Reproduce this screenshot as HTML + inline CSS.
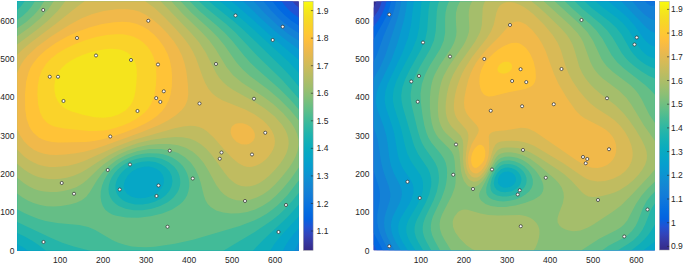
<!DOCTYPE html>
<html><head><meta charset="utf-8">
<style>
html,body{margin:0;padding:0;background:#fff;width:685px;height:264px;overflow:hidden}
svg{display:block}
text{font-family:"Liberation Sans",sans-serif;font-size:8.5px;fill:#262626}
</style></head><body>
<svg width="685" height="264" viewBox="0 0 685 264" xmlns="http://www.w3.org/2000/svg">
<defs>
<clipPath id="cl"><rect x="17.2" y="1.2" width="281.7" height="249.55"/></clipPath>
<clipPath id="cr"><rect x="373.5" y="1.2" width="281.3" height="249.2"/></clipPath>
<linearGradient id="gl" x1="0" y1="1" x2="0" y2="0"><stop offset="0.000" stop-color="#352a87"/><stop offset="0.031" stop-color="#36369f"/><stop offset="0.062" stop-color="#3243b9"/><stop offset="0.094" stop-color="#2152d3"/><stop offset="0.125" stop-color="#0462e0"/><stop offset="0.156" stop-color="#046ce0"/><stop offset="0.188" stop-color="#0c74dd"/><stop offset="0.219" stop-color="#127cd8"/><stop offset="0.250" stop-color="#1484d4"/><stop offset="0.281" stop-color="#118dd2"/><stop offset="0.312" stop-color="#0a97d1"/><stop offset="0.344" stop-color="#069fce"/><stop offset="0.375" stop-color="#06a6c7"/><stop offset="0.406" stop-color="#09abbf"/><stop offset="0.438" stop-color="#13b0b6"/><stop offset="0.469" stop-color="#21b4ac"/><stop offset="0.500" stop-color="#33b8a1"/><stop offset="0.531" stop-color="#47bb95"/><stop offset="0.562" stop-color="#5ebe89"/><stop offset="0.594" stop-color="#75bf7e"/><stop offset="0.625" stop-color="#8bbf75"/><stop offset="0.656" stop-color="#9fbe6d"/><stop offset="0.688" stop-color="#b1bd66"/><stop offset="0.719" stop-color="#c2bc5f"/><stop offset="0.750" stop-color="#d3bb58"/><stop offset="0.781" stop-color="#e3b951"/><stop offset="0.812" stop-color="#f2b949"/><stop offset="0.844" stop-color="#febf3c"/><stop offset="0.875" stop-color="#fec932"/><stop offset="0.906" stop-color="#f9d329"/><stop offset="0.938" stop-color="#f5de21"/><stop offset="0.969" stop-color="#f5eb18"/><stop offset="1.000" stop-color="#f9fb0e"/></linearGradient>
<linearGradient id="gr" x1="0" y1="1" x2="0" y2="0"><stop offset="0.000" stop-color="#352a87"/><stop offset="0.031" stop-color="#36369f"/><stop offset="0.062" stop-color="#3243b9"/><stop offset="0.094" stop-color="#2152d3"/><stop offset="0.125" stop-color="#0462e0"/><stop offset="0.156" stop-color="#046ce0"/><stop offset="0.188" stop-color="#0c74dd"/><stop offset="0.219" stop-color="#127cd8"/><stop offset="0.250" stop-color="#1484d4"/><stop offset="0.281" stop-color="#118dd2"/><stop offset="0.312" stop-color="#0a97d1"/><stop offset="0.344" stop-color="#069fce"/><stop offset="0.375" stop-color="#06a6c7"/><stop offset="0.406" stop-color="#09abbf"/><stop offset="0.438" stop-color="#13b0b6"/><stop offset="0.469" stop-color="#21b4ac"/><stop offset="0.500" stop-color="#33b8a1"/><stop offset="0.531" stop-color="#47bb95"/><stop offset="0.562" stop-color="#5ebe89"/><stop offset="0.594" stop-color="#75bf7e"/><stop offset="0.625" stop-color="#8bbf75"/><stop offset="0.656" stop-color="#9fbe6d"/><stop offset="0.688" stop-color="#b1bd66"/><stop offset="0.719" stop-color="#c2bc5f"/><stop offset="0.750" stop-color="#d3bb58"/><stop offset="0.781" stop-color="#e3b951"/><stop offset="0.812" stop-color="#f2b949"/><stop offset="0.844" stop-color="#febf3c"/><stop offset="0.875" stop-color="#fec932"/><stop offset="0.906" stop-color="#f9d329"/><stop offset="0.938" stop-color="#f5de21"/><stop offset="0.969" stop-color="#f5eb18"/><stop offset="1.000" stop-color="#f9fb0e"/></linearGradient>
</defs>
<rect width="685" height="264" fill="#fff"/>
<g clip-path="url(#cl)">
<rect x="17.2" y="1.2" width="281.7" height="249.55" fill="#352a87"/>
<path fill="#353dad" fill-rule="evenodd" d="M17.7 1.2 298.7 1.2 298.7 250.7 17.2 250.7 17.2 1.2Z"/>
<path fill="#2053d4" fill-rule="evenodd" d="M17.7 1.2 292.4 1.2 295.4 4.7 298.7 7.5 298.7 250.7 17.2 250.7 17.2 1.2Z"/>
<path fill="#0268e1" fill-rule="evenodd" d="M17.7 1.2 281.7 1.2 285.1 5.7 289.2 10.2 293.9 14.2 298.7 17.5 298.7 250.7 17.2 250.7 17.2 1.2Z"/>
<path fill="#0d75dc" fill-rule="evenodd" d="M17.7 1.2 272.5 1.2 277.9 8.2 284.7 15.2 291.7 21.0 298.7 25.5 298.7 250.7 17.2 250.7 17.2 1.2Z"/>
<path fill="#1481d6" fill-rule="evenodd" d="M17.7 1.2 263.4 1.2 271.3 10.7 280.2 19.5 289.7 27.2 298.7 33.0 298.7 250.7 17.2 250.7 17.2 1.2Z"/>
<path fill="#108ed2" fill-rule="evenodd" d="M17.7 1.2 253.6 1.2 264.8 13.2 276.7 24.5 287.7 33.4 298.7 40.8 298.7 250.7 17.2 250.7 17.2 1.2Z"/>
<path fill="#079ccf" fill-rule="evenodd" d="M17.7 1.2 243.0 1.2 262.4 19.7 274.2 30.4 285.7 39.8 298.7 49.3 298.7 242.6 294.4 250.7 17.2 250.7 17.2 1.2Z"/>
<path fill="#06a7c6" fill-rule="evenodd" d="M17.7 1.2 231.6 1.2 248.7 16.0 271.7 36.8 298.7 59.7 298.7 228.2 293.0 234.7 288.9 240.2 285.4 245.7 282.9 250.7 17.2 250.7 17.2 1.2Z"/>
<path fill="#0faeb9" fill-rule="evenodd" d="M17.7 1.2 220.0 1.2 245.5 22.2 288.6 61.7 298.7 72.7 298.7 216.4 279.6 237.2 274.2 244.2 270.2 250.7 28.1 250.7 22.7 246.9 17.2 243.9 17.2 1.2ZM143.9 166.7 137.8 168.2 132.3 171.2 127.7 175.7 124.8 180.7 123.7 185.7 124.6 190.2 127.2 193.9 131.7 196.7 136.2 198.0 140.7 198.3 145.7 197.8 150.2 196.6 154.3 194.7 158.2 191.9 161.1 188.7 163.1 185.2 163.9 181.7 163.8 178.2 162.5 174.7 160.2 171.6 157.0 169.2 153.2 167.5 148.7 166.6Z"/>
<path fill="#25b5a9" fill-rule="evenodd" d="M17.7 1.2 209.0 1.2 216.0 7.2 233.7 21.2 244.4 30.7 282.2 67.4 289.7 75.6 298.7 86.6 298.7 204.8 287.2 217.4 263.4 239.7 252.9 250.7 46.1 250.7 38.9 245.2 32.2 240.7 24.7 236.4 17.2 232.9 17.2 1.2ZM142.1 161.7 137.7 162.7 133.3 164.2 129.3 166.2 125.6 168.7 122.3 171.7 119.8 174.7 117.6 178.2 116.2 181.7 115.5 185.2 115.5 188.7 116.1 191.7 117.5 194.7 119.4 197.2 122.2 199.7 125.6 201.7 129.2 203.1 135.2 204.4 142.2 204.5 148.7 203.6 155.2 201.6 161.0 198.7 165.7 195.2 169.5 190.7 171.6 186.2 172.5 181.2 171.7 175.9 169.4 171.2 165.7 167.2 161.0 164.2 155.2 162.1 148.7 161.3Z"/>
<path fill="#42bb98" fill-rule="evenodd" d="M24.7 1.2 199.0 1.2 206.5 8.2 225.8 23.7 235.2 32.2 257.2 55.8 281.7 79.4 298.7 98.5 298.7 192.9 292.0 201.2 285.7 208.2 279.2 214.4 271.7 220.6 256.2 231.1 223.3 250.7 90.2 250.7 73.7 246.6 62.2 242.8 50.7 237.8 17.2 221.9 17.2 10.0 21.2 6.0ZM145.9 157.2 140.7 157.9 135.3 159.2 130.2 161.1 125.7 163.4 121.6 166.2 117.5 169.7 114.4 173.2 111.8 177.2 110.0 181.2 108.8 185.7 108.5 189.7 109.0 193.7 110.3 197.2 112.5 200.7 115.2 203.5 118.7 205.9 125.7 208.8 133.7 210.2 142.7 210.2 151.7 208.8 160.2 206.1 167.7 202.2 173.3 197.7 177.5 192.2 178.9 189.2 179.9 185.7 180.3 182.7 180.1 179.2 179.4 175.7 178.3 172.7 176.6 169.7 174.2 166.7 168.8 162.2 162.2 159.1 154.2 157.3Z"/>
<path fill="#65be86" fill-rule="evenodd" d="M34.7 1.4 189.8 1.2 199.2 10.7 217.6 26.2 224.7 32.7 231.7 40.2 244.2 55.8 250.4 62.7 256.7 68.7 279.7 88.9 289.7 99.1 298.7 109.2 298.7 180.6 287.4 195.2 277.7 205.2 272.2 209.8 266.7 213.7 260.7 217.3 254.7 220.2 239.7 225.9 193.0 239.7 174.7 243.7 154.5 246.7 146.2 247.3 138.7 247.1 131.7 246.4 124.7 244.8 118.3 242.7 112.6 240.2 95.2 230.1 88.2 227.0 79.2 224.9 57.2 223.1 45.7 221.0 38.7 218.9 31.7 216.3 24.7 213.2 17.2 209.2 17.2 20.0 22.9 15.7 27.7 11.2 31.7 6.3ZM147.9 153.2 141.7 154.0 135.7 155.3 129.7 157.4 124.2 160.0 118.9 163.2 114.5 166.7 110.5 170.7 107.0 175.2 104.1 180.2 102.0 185.7 100.8 191.2 100.6 196.7 101.3 201.7 102.9 206.2 105.3 209.7 108.7 212.6 112.2 214.5 116.2 215.8 126.2 217.5 138.2 217.7 150.7 216.3 162.2 213.5 172.2 209.4 179.7 204.6 182.7 201.8 185.1 198.7 187.1 195.2 188.4 191.2 189.2 186.7 189.2 182.2 188.5 177.7 187.0 173.2 185.0 169.2 182.6 165.7 179.7 162.7 176.2 159.9 172.2 157.5 168.0 155.7 163.2 154.3 158.2 153.4Z"/>
<path fill="#87bf77" fill-rule="evenodd" d="M44.2 1.2 180.7 1.2 191.2 12.5 210.4 29.7 217.8 37.2 224.4 45.2 236.3 62.2 242.7 69.5 250.2 76.2 268.7 90.1 279.2 99.0 290.2 109.9 298.7 120.3 298.7 167.6 297.7 169.1 290.7 178.9 282.7 188.7 276.2 195.6 269.7 201.2 262.7 205.8 255.2 209.4 247.2 211.9 239.2 213.3 231.2 213.6 223.2 212.6 216.2 210.4 210.7 207.1 207.7 204.0 205.5 200.2 203.9 195.7 200.7 182.7 198.4 175.7 195.1 168.7 190.9 162.7 185.0 157.2 178.2 153.1 170.2 150.4 161.2 149.0 149.7 149.1 137.7 151.1 126.7 154.8 116.7 160.1 109.2 165.7 102.4 172.7 97.3 179.7 89.7 192.3 86.2 196.7 81.7 200.3 76.2 202.8 69.7 204.6 61.2 205.9 53.7 206.4 46.7 206.2 40.2 205.1 34.2 203.3 28.2 200.7 22.2 197.2 17.2 193.6 17.2 28.3 26.2 21.9 33.7 15.2 39.4 8.7Z"/>
<path fill="#a5be6b" fill-rule="evenodd" d="M53.7 1.2 171.4 1.2 182.6 13.7 201.7 32.2 209.1 40.2 215.3 48.7 226.6 67.2 233.1 75.2 242.1 82.7 262.7 96.2 273.2 104.0 283.2 113.2 291.2 122.7 294.6 128.2 297.0 133.7 298.4 139.2 298.6 144.7 297.8 150.2 295.9 155.7 293.2 161.2 289.0 167.7 282.2 176.5 275.3 184.2 269.2 189.9 263.2 194.2 256.7 197.6 250.2 199.7 243.2 200.7 236.7 200.2 232.2 199.0 228.2 197.2 224.2 194.5 220.8 191.2 216.1 184.7 207.9 169.7 203.5 162.7 198.5 156.7 192.8 151.7 185.7 147.7 178.2 145.3 169.2 144.0 158.7 144.0 148.2 145.1 137.7 147.3 127.7 150.5 118.7 154.5 111.2 158.9 103.8 164.2 98.0 169.2 87.2 179.7 82.2 183.8 76.2 187.2 69.7 189.6 63.2 191.1 56.7 191.9 50.2 192.1 44.2 191.6 38.7 190.4 33.7 188.7 28.7 186.2 23.7 183.0 17.2 177.8 17.2 36.2 30.4 26.7 40.4 18.2 48.1 9.7Z"/>
<path fill="#c0bc60" fill-rule="evenodd" d="M65.2 1.3 160.7 1.2 191.3 33.2 199.0 42.2 205.6 52.2 216.2 73.2 219.6 78.2 223.2 82.2 227.7 86.2 233.2 90.0 255.2 102.3 265.2 108.8 274.7 116.6 282.0 124.7 285.2 129.7 287.2 134.2 288.4 138.7 288.7 143.7 288.0 148.2 286.4 153.2 283.8 158.2 280.1 163.7 275.2 169.6 269.7 175.3 264.7 179.5 259.9 182.7 255.2 184.9 250.2 186.3 245.7 186.6 241.2 185.9 237.7 184.7 234.9 183.2 229.2 178.5 224.7 173.0 211.6 154.7 206.2 148.8 201.2 144.5 195.2 140.8 189.2 138.5 182.7 137.3 175.2 137.0 164.2 137.9 150.7 140.1 138.2 143.1 126.7 146.9 117.6 150.7 108.7 155.2 100.5 160.2 86.7 169.3 80.7 172.8 73.7 175.8 66.7 177.8 60.2 178.8 54.2 179.2 48.7 179.1 43.2 178.3 38.2 177.0 33.2 175.0 28.2 172.3 23.7 169.2 17.2 163.7 17.2 44.6 38.2 28.7 48.4 20.2 57.5 11.2Z"/>
<path fill="#d9ba56" fill-rule="evenodd" d="M84.2 1.6 84.9 1.2 145.2 1.2 154.7 8.1 163.7 16.4 175.1 28.2 183.5 37.7 189.1 45.2 192.7 51.2 195.8 57.7 202.6 76.7 205.2 83.0 208.4 88.7 212.1 93.2 216.7 97.1 222.2 100.3 245.2 109.6 254.3 114.2 262.8 120.2 266.4 123.7 269.4 127.2 271.8 130.7 273.7 134.7 274.6 138.2 274.9 141.7 274.5 145.2 273.2 149.2 271.3 152.7 268.7 156.2 265.7 159.4 262.3 162.2 259.2 164.2 255.7 165.8 252.2 166.8 249.2 167.0 246.2 166.7 243.2 165.8 238.2 163.0 232.2 157.9 225.7 151.2 213.7 137.4 207.2 131.4 203.2 128.8 199.2 127.1 194.7 126.0 190.2 125.7 183.2 126.4 174.7 128.2 134.2 139.8 115.7 146.8 84.2 161.1 76.2 163.8 68.2 165.7 61.7 166.6 55.2 167.1 49.2 166.9 43.7 166.1 38.7 164.7 33.7 162.6 28.7 159.8 24.2 156.4 17.2 149.4 17.2 54.8 22.9 49.2 30.6 42.7 56.5 23.2 77.7 6.2Z"/>
<path fill="#f1b94a" fill-rule="evenodd" d="M116.2 9.2 124.7 8.9 132.2 9.7 139.2 11.6 145.7 14.7 152.7 19.4 160.0 25.7 167.7 33.7 174.2 41.8 178.6 48.7 182.0 55.7 184.5 63.2 186.4 71.7 187.9 84.2 188.3 93.7 187.4 100.2 185.1 105.7 181.6 110.2 175.9 115.2 168.3 120.2 159.7 124.7 142.6 131.7 104.2 145.8 92.7 149.6 84.2 151.7 75.7 153.3 65.2 154.5 56.2 155.0 49.7 154.7 44.2 153.8 39.2 152.3 34.2 149.9 28.7 146.0 24.0 141.2 20.2 135.5 17.2 128.9 17.2 73.0 20.9 64.7 23.9 60.2 27.5 55.7 37.1 46.7 50.7 36.7 69.2 25.0 81.2 18.6 91.7 14.3 103.7 11.1ZM238.2 123.2 242.5 123.2 246.7 124.5 250.7 127.0 253.4 130.2 254.8 133.7 254.9 137.2 253.3 140.7 250.7 143.1 248.7 144.1 246.2 144.6 241.2 144.2 236.4 141.7 232.7 137.7 231.4 135.2 230.7 132.7 230.7 130.2 231.1 128.2 232.2 126.3 233.7 124.9 235.7 123.8Z"/>
<path fill="#ffc337" fill-rule="evenodd" d="M114.2 22.2 122.7 21.7 129.7 22.2 136.2 23.7 142.2 26.2 148.2 29.8 154.2 34.8 159.6 40.7 164.1 47.2 167.5 53.7 169.9 60.7 171.4 68.2 172.1 76.7 171.8 86.2 170.6 94.2 168.6 100.7 165.4 106.7 161.9 111.2 157.2 115.7 151.7 119.7 144.8 123.7 136.3 127.7 125.0 132.2 113.2 136.3 102.7 139.2 94.2 140.9 85.7 141.9 58.7 142.4 52.2 141.9 47.2 141.0 42.7 139.5 38.5 137.2 33.2 132.5 31.1 129.7 29.2 126.2 26.6 118.7 25.2 109.2 25.0 94.2 26.2 81.4 28.7 71.9 30.5 67.7 32.9 63.7 38.4 56.7 46.2 49.7 55.7 43.1 67.2 36.6 78.7 31.3 90.2 27.2 102.2 24.1Z"/>
<path fill="#fad32a" fill-rule="evenodd" d="M116.2 34.2 122.7 34.3 128.5 35.2 133.7 36.8 138.7 39.2 143.2 42.4 147.1 46.2 150.4 50.7 153.0 55.7 155.0 61.7 156.0 68.2 156.4 76.2 155.9 85.2 154.8 92.7 153.3 98.7 150.9 104.2 148.0 108.7 144.9 112.2 140.7 115.8 135.7 119.2 130.2 122.2 123.3 125.2 116.7 127.5 109.7 129.4 103.2 130.5 96.2 131.1 88.7 131.1 64.2 128.6 54.2 126.4 50.2 124.7 47.1 122.7 42.9 118.2 40.0 112.2 38.2 104.6 37.4 94.7 37.8 85.2 39.3 77.2 42.0 70.2 46.2 63.7 51.4 58.2 57.8 53.2 65.7 48.4 74.7 44.2 85.2 40.2 96.2 37.1 106.7 35.1Z"/>
<path fill="#f5e41d" fill-rule="evenodd" d="M104.7 49.2 110.2 48.8 115.2 48.9 119.7 49.6 123.5 50.7 127.2 52.5 130.1 54.7 132.7 57.7 134.5 60.7 135.9 64.7 136.7 69.7 136.8 75.2 136.3 83.2 135.4 91.2 134.3 96.7 132.7 101.2 130.4 105.2 125.7 110.2 119.2 114.2 111.7 116.7 103.7 117.8 94.7 117.2 82.7 114.7 71.2 111.2 67.2 109.4 63.7 107.4 60.2 104.3 57.6 100.7 55.6 96.2 54.5 90.7 54.4 85.2 55.1 80.2 56.8 75.2 59.5 70.7 62.4 67.2 66.3 63.7 71.2 60.4 76.7 57.4 83.2 54.7 90.5 52.2 97.7 50.4Z"/>
</g>
<g clip-path="url(#cr)">
<rect x="373.5" y="1.2" width="281.3" height="249.2" fill="#352a87"/>
<path fill="#353dad" fill-rule="evenodd" d="M376.5 1.2 655.0 1.2 655.0 250.2 373.5 250.2 373.5 8.1Z"/>
<path fill="#2053d4" fill-rule="evenodd" d="M382.0 1.2 655.0 1.2 655.0 250.2 373.5 250.2 373.5 17.6 378.4 10.2 380.4 5.7 381.7 1.2Z"/>
<path fill="#0268e1" fill-rule="evenodd" d="M386.5 1.2 655.0 1.2 655.0 250.2 376.7 250.2 373.5 244.4 373.5 26.8 378.5 19.9 382.1 13.7 384.7 7.7Z"/>
<path fill="#0d75dc" fill-rule="evenodd" d="M391.5 1.2 655.0 1.2 655.0 250.2 382.8 250.2 373.5 232.5 373.5 39.8 386.2 16.7 389.0 9.8 391.1 1.2Z"/>
<path fill="#1481d6" fill-rule="evenodd" d="M396.0 1.2 645.1 1.2 647.4 3.7 650.0 5.4 652.5 6.0 655.0 5.3 655.0 250.2 388.6 250.2 383.1 240.2 380.1 233.7 378.2 227.7 377.2 221.7 377.3 214.7 379.6 201.2 380.0 195.2 379.6 190.7 378.6 186.2 373.5 170.3 373.5 62.1 377.0 54.4 383.7 35.7 392.3 15.7 394.6 8.2Z"/>
<path fill="#108ed2" fill-rule="evenodd" d="M401.5 1.2 632.5 1.2 638.0 8.2 645.0 15.1 650.5 18.8 653.0 19.7 655.0 19.9 655.0 250.2 394.5 250.2 387.4 237.2 385.3 231.7 384.3 226.7 384.1 222.2 384.5 217.7 385.6 213.2 389.7 200.7 390.3 196.7 390.3 193.2 388.9 186.7 384.2 173.7 382.3 167.2 380.7 159.7 377.7 139.7 376.0 133.7 373.5 127.2 373.5 78.7 380.5 66.4 385.3 55.2 397.8 17.2 399.9 9.2 401.2 1.2Z"/>
<path fill="#079ccf" fill-rule="evenodd" d="M407.0 1.2 621.4 1.2 646.5 27.7 651.0 31.3 655.0 32.8 655.0 250.2 400.8 250.2 396.0 242.4 393.2 236.7 391.4 231.2 390.9 225.7 391.4 221.2 392.7 216.7 399.2 203.7 401.0 199.2 401.9 194.7 401.7 190.7 400.2 185.7 393.8 173.2 390.9 165.2 389.3 157.7 387.5 142.4 386.2 135.2 383.9 127.2 377.4 109.2 376.2 103.7 376.0 98.7 376.7 92.7 378.6 86.7 391.2 60.2 397.6 42.7 404.0 19.7 405.9 10.2Z"/>
<path fill="#06a7c6" fill-rule="evenodd" d="M414.0 1.2 608.2 1.2 622.5 12.9 628.7 18.7 634.7 25.7 643.0 37.5 646.4 41.7 650.5 45.1 655.0 46.8 655.0 250.2 407.7 250.2 402.6 242.2 399.9 236.7 398.4 231.2 398.2 226.2 399.0 222.2 400.6 218.2 409.1 204.2 411.7 198.7 413.4 192.7 413.4 187.2 412.5 183.7 411.1 180.7 402.7 168.2 399.4 160.7 397.6 153.7 394.3 133.7 392.2 126.2 386.1 108.2 384.9 102.7 384.7 97.7 385.4 91.2 387.7 83.7 402.2 53.2 407.9 38.2 411.0 24.7 413.7 1.2Z"/>
<path fill="#0faeb9" fill-rule="evenodd" d="M421.5 1.2 595.4 1.2 601.8 6.7 616.9 17.7 623.0 23.2 628.7 30.2 637.3 44.7 641.8 50.7 644.9 53.7 648.0 55.9 651.5 57.6 655.0 58.5 655.0 241.6 643.4 250.2 415.3 250.2 410.2 242.2 407.7 237.2 406.3 232.2 406.2 227.2 407.0 223.7 408.6 219.7 417.5 204.5 420.9 197.2 422.9 189.7 423.0 182.7 422.1 178.7 420.3 174.7 410.9 161.2 407.1 153.2 405.4 147.2 401.0 128.2 394.0 106.7 393.0 101.2 392.8 96.2 393.8 88.7 396.5 80.7 400.5 72.2 412.5 49.2 416.9 38.2 419.2 27.2ZM504.9 171.7 502.0 173.0 499.5 175.5 498.1 178.7 497.9 182.2 498.9 184.7 501.0 186.6 504.0 187.7 507.5 187.6 511.0 186.5 514.1 184.2 515.8 181.2 516.0 178.2 514.7 175.2 512.0 172.8 508.5 171.6Z"/>
<path fill="#25b5a9" fill-rule="evenodd" d="M430.0 1.2 584.5 1.2 592.0 8.2 609.5 21.4 616.3 27.7 621.7 34.7 630.9 50.7 634.0 54.7 637.5 58.4 641.5 61.8 646.0 64.8 650.5 67.0 655.0 68.4 655.0 224.5 651.2 230.7 648.0 235.2 644.0 239.7 639.8 243.7 631.4 250.2 423.1 250.2 418.3 242.2 415.9 237.2 414.6 232.2 414.5 227.7 415.3 223.7 416.8 219.7 425.9 202.2 429.2 194.2 431.1 186.2 431.3 182.2 431.1 178.2 429.9 173.2 428.0 168.7 418.0 154.0 413.9 145.2 402.6 106.2 401.5 100.5 401.2 95.2 402.4 87.2 405.4 78.7 410.0 69.2 421.2 49.2 425.3 39.2 427.2 30.2 428.6 9.7ZM504.9 167.7 501.0 169.2 497.4 172.7 494.8 177.7 493.8 183.2 494.5 186.7 496.7 189.7 500.5 191.7 505.0 192.3 511.0 191.4 514.0 190.1 516.5 188.5 518.5 186.7 520.0 184.7 521.0 182.2 521.4 179.7 521.1 177.2 520.1 174.7 518.5 172.4 516.5 170.6 514.0 169.1 511.0 168.0 508.0 167.5Z"/>
<path fill="#42bb98" fill-rule="evenodd" d="M439.0 1.2 574.7 1.2 582.3 8.7 600.5 23.7 607.1 30.2 612.4 37.2 621.9 53.2 625.4 57.7 629.2 61.7 635.0 66.7 642.0 71.8 649.0 76.0 655.0 78.6 655.0 203.3 652.6 206.7 650.7 210.2 645.2 224.2 642.5 229.7 638.5 235.2 633.4 240.2 628.0 244.1 617.9 250.2 431.2 250.2 426.4 241.7 424.0 236.4 422.8 231.7 422.7 226.7 423.4 222.7 425.1 217.7 433.6 200.2 436.8 191.7 438.7 182.2 438.9 177.7 438.6 173.2 437.5 168.1 435.4 163.2 432.9 159.2 424.5 147.5 422.0 142.9 419.9 137.7 417.4 129.2 412.0 106.7 410.9 100.2 410.6 94.2 411.8 85.7 414.9 76.7 419.6 67.2 430.2 49.2 434.0 40.2 435.7 31.2 436.8 11.2 437.6 6.2ZM504.4 164.2 502.0 164.9 499.5 166.4 495.6 170.7 491.9 178.2 490.3 185.2 490.8 189.7 491.8 191.7 493.1 193.2 497.0 195.5 502.5 196.6 506.5 196.5 511.0 195.8 515.0 194.5 519.0 192.4 522.0 190.1 524.5 187.2 526.0 184.2 526.6 181.2 526.4 177.7 525.1 174.2 523.0 171.0 520.0 168.2 516.5 166.0 512.5 164.6 508.5 163.9Z"/>
<path fill="#65be86" fill-rule="evenodd" d="M449.0 1.2 564.8 1.2 573.7 9.7 590.3 24.2 596.6 30.7 602.4 38.7 611.5 55.1 617.1 62.2 624.0 68.4 644.8 84.7 650.2 89.7 655.0 94.8 655.0 191.5 650.5 195.9 646.5 201.3 642.9 208.2 638.1 220.7 635.7 225.7 632.0 231.0 627.5 235.2 622.0 238.7 608.5 245.8 602.2 250.2 440.0 250.2 434.7 240.7 432.2 235.2 430.9 230.2 430.8 225.2 431.6 220.7 433.0 216.2 441.7 197.7 444.9 188.7 446.2 183.2 446.9 177.7 447.1 172.2 446.8 167.7 445.7 162.7 443.7 158.2 441.0 154.2 431.5 142.7 428.5 137.7 426.4 132.7 424.3 125.2 422.4 114.7 420.8 102.2 420.5 93.7 421.8 84.2 425.0 74.7 429.5 65.9 440.3 48.7 443.7 40.7 445.1 32.7 445.1 18.7 445.5 12.7 446.8 6.7ZM504.0 160.7 501.5 161.5 499.0 163.0 497.0 164.9 494.6 168.2 489.3 178.7 487.2 184.2 486.2 188.2 486.3 192.7 487.0 194.8 488.4 196.7 490.1 198.2 492.5 199.5 498.0 201.1 503.5 201.4 509.5 200.8 515.5 199.4 521.0 197.2 525.5 194.6 529.3 191.2 531.7 187.7 532.8 184.2 532.8 179.7 531.4 175.2 528.6 170.7 524.5 166.4 520.0 163.4 514.5 161.3 509.0 160.3Z"/>
<path fill="#87bf77" fill-rule="evenodd" d="M460.0 1.2 554.6 1.2 579.9 24.2 587.5 32.2 593.0 40.7 601.4 58.7 604.0 62.7 606.8 66.2 613.0 72.0 630.5 85.2 634.6 89.2 638.3 93.7 641.9 99.7 649.3 114.7 655.0 123.0 655.0 181.5 647.9 188.2 641.4 195.7 635.8 204.2 627.4 220.2 624.0 224.5 620.2 227.7 616.0 230.2 599.2 238.7 581.5 250.2 451.0 250.2 444.5 239.8 441.8 234.7 440.0 229.2 439.6 224.2 440.2 219.7 442.0 214.4 451.7 195.7 454.7 187.7 455.5 183.2 455.7 177.7 454.7 161.2 453.5 155.6 451.5 151.4 448.9 148.2 438.8 138.2 436.0 134.2 433.6 129.2 431.8 123.2 430.6 116.2 429.9 107.2 429.9 97.7 430.4 91.2 431.3 85.2 432.7 79.7 434.6 74.7 439.4 65.7 451.2 48.2 453.6 43.7 455.1 39.7 456.1 35.7 456.5 31.7 455.8 18.2 456.0 12.7 457.4 6.7ZM505.0 156.7 501.0 157.9 498.0 159.9 495.5 162.8 492.5 167.8 479.7 192.2 479.1 194.7 479.2 196.7 479.9 198.7 481.3 200.7 485.5 203.9 491.0 206.0 498.0 207.0 506.0 206.9 515.5 205.5 525.5 202.8 534.0 199.5 539.5 195.9 541.6 193.7 542.9 191.2 543.5 188.2 543.3 185.2 542.3 181.7 540.4 177.7 537.9 173.7 534.8 169.7 528.4 163.7 524.7 161.2 521.0 159.3 517.0 157.8 513.0 156.9 509.0 156.5Z"/>
<path fill="#a5be6b" fill-rule="evenodd" d="M472.0 1.2 543.7 1.2 569.6 24.7 577.6 33.2 580.8 37.7 583.2 42.2 590.3 61.7 592.5 66.2 595.0 70.2 598.3 74.2 602.4 78.2 619.5 91.0 626.3 97.7 631.4 104.7 644.0 125.4 655.0 140.9 655.0 169.3 649.5 175.7 631.5 195.0 621.0 205.4 613.0 211.5 593.7 224.2 588.0 227.5 580.5 230.4 576.5 231.1 573.0 231.2 569.0 230.6 565.5 229.5 562.0 227.7 559.6 225.7 557.6 222.2 557.5 218.2 558.6 214.2 562.8 203.2 563.9 197.2 563.4 192.2 561.5 187.2 558.8 183.2 555.1 179.2 538.9 165.2 530.5 159.0 522.5 154.9 516.5 153.2 510.5 152.3 505.0 152.5 501.0 153.5 498.5 155.0 496.0 157.6 485.5 177.0 482.0 181.8 478.5 185.0 474.5 187.0 472.5 187.3 470.5 187.1 468.5 186.2 467.0 185.1 464.0 180.9 462.2 176.2 460.9 170.7 459.3 152.2 458.1 146.7 455.6 142.2 445.5 132.8 443.1 129.7 441.2 126.2 439.5 121.7 438.4 116.7 437.9 110.7 437.9 103.7 438.6 95.7 439.8 88.2 441.4 81.7 443.7 75.7 448.9 66.2 463.1 45.7 465.8 40.7 467.8 35.7 468.9 31.7 469.3 27.7 468.7 15.2 468.9 10.7 470.0 5.7ZM462.5 209.7 465.0 209.4 467.5 209.7 480.5 213.5 488.5 215.0 498.0 215.5 520.0 215.1 525.5 215.9 530.1 217.7 533.2 219.7 536.2 222.7 538.2 225.7 539.3 229.2 539.5 233.2 538.9 237.7 537.5 242.7 535.7 247.2 533.8 250.2 474.6 250.2 472.0 249.1 466.5 245.3 460.0 238.7 455.2 232.2 453.0 226.7 452.7 221.7 453.3 219.2 454.5 216.4 458.0 212.1 460.0 210.7Z"/>
<path fill="#c0bc60" fill-rule="evenodd" d="M485.0 1.2 531.5 1.2 538.9 7.2 548.1 15.7 560.5 27.7 566.7 34.7 569.8 39.2 572.4 44.2 574.4 49.7 579.3 66.7 582.0 72.7 585.4 78.2 590.0 83.9 595.5 89.5 601.0 94.2 615.5 105.3 624.0 113.7 629.5 120.7 635.7 129.7 641.4 139.2 644.8 146.2 646.5 151.2 647.0 155.7 646.6 160.2 645.1 164.7 642.3 169.7 638.5 174.7 633.5 180.1 628.0 184.8 619.5 190.2 614.5 192.4 609.0 194.2 602.0 196.0 596.5 197.0 592.0 197.1 588.5 196.5 585.5 195.1 582.5 192.8 571.5 180.7 564.3 174.2 558.0 169.7 537.5 156.4 530.5 152.4 524.5 149.8 518.0 148.1 511.0 147.4 506.0 147.4 502.0 148.0 499.1 149.2 497.0 150.8 494.0 155.3 489.3 166.2 486.1 172.2 483.0 176.7 479.5 180.0 476.5 181.5 473.5 181.7 470.5 180.5 468.0 178.2 465.3 173.2 463.6 166.2 463.0 158.7 463.3 144.7 462.6 139.7 460.5 135.6 451.7 126.7 449.5 123.7 447.9 120.7 446.6 116.7 445.8 112.2 445.6 107.2 445.9 101.7 446.9 94.2 448.6 86.7 450.7 80.2 453.3 74.2 459.5 63.7 475.3 41.2 480.0 32.2 481.2 28.2 481.9 24.2 482.7 8.2 483.5 4.7Z"/>
<path fill="#d9ba56" fill-rule="evenodd" d="M506.5 2.2 510.5 2.1 514.5 2.8 519.0 4.4 523.5 6.8 528.5 10.2 533.5 14.2 544.1 24.7 552.5 34.7 557.6 42.7 560.9 50.2 565.5 65.7 568.4 73.2 572.6 81.2 578.7 90.2 584.9 97.7 590.5 103.4 596.5 108.2 609.0 116.3 614.5 120.3 620.2 125.7 625.0 132.0 628.8 138.7 631.3 145.2 632.6 151.2 632.6 156.7 631.4 161.7 628.9 166.7 625.1 171.2 620.5 174.9 613.0 178.7 605.0 181.0 597.5 181.6 590.5 180.3 587.0 178.9 583.0 176.8 563.0 162.9 534.0 145.8 528.5 143.4 523.5 142.0 518.0 141.1 511.5 140.8 505.5 141.0 501.0 141.6 498.0 142.6 495.5 144.5 493.2 148.7 489.7 160.2 487.0 166.7 483.5 172.3 480.0 175.9 477.0 177.4 474.0 177.6 471.5 176.4 469.0 173.7 467.5 170.8 466.5 167.7 465.6 160.2 466.1 152.2 468.3 139.2 468.3 134.7 467.6 132.2 466.5 130.0 458.0 120.2 456.2 117.2 455.0 114.2 454.1 110.2 453.8 105.2 454.3 99.7 455.3 93.7 457.1 86.7 459.5 79.7 462.0 73.7 465.2 67.7 472.3 56.7 486.8 38.2 491.1 31.2 493.7 24.7 496.4 12.7 498.1 8.2 499.5 6.1 501.6 4.2 504.0 2.9Z"/>
<path fill="#f1b94a" fill-rule="evenodd" d="M515.0 21.7 517.5 21.4 520.0 21.8 523.0 22.9 526.0 24.6 532.4 30.2 538.4 37.7 542.1 43.7 545.5 50.7 553.9 73.7 558.4 83.7 566.7 97.7 575.9 110.7 580.3 115.2 585.0 118.6 600.0 126.2 605.5 129.5 609.8 133.2 613.0 137.2 614.8 140.7 616.0 144.7 616.3 148.7 616.0 152.2 615.0 155.7 613.1 159.2 610.6 162.2 607.5 164.7 602.5 167.1 597.5 168.1 592.0 167.8 586.5 166.1 577.5 161.1 535.0 131.8 528.0 128.6 524.5 127.9 521.0 127.8 506.0 130.2 495.5 131.3 492.5 132.1 490.5 133.2 489.3 134.7 488.8 136.7 489.2 147.7 488.7 154.7 487.5 159.8 485.5 164.7 481.5 170.4 479.5 172.1 477.5 173.2 475.5 173.6 473.5 173.1 472.0 172.1 470.5 170.3 469.0 166.9 468.2 162.7 468.1 157.7 468.8 152.7 471.5 144.4 478.0 133.2 478.8 130.2 478.2 127.7 476.7 125.2 469.4 117.2 467.0 114.0 465.5 111.1 464.5 107.7 464.0 102.7 464.5 97.2 466.1 88.7 468.4 79.7 470.7 73.2 473.5 67.2 476.7 61.7 481.0 55.9 486.5 49.6 499.6 36.2 509.0 25.5 512.0 23.0Z"/>
<path fill="#ffc337" fill-rule="evenodd" d="M511.5 43.1 516.5 42.8 519.0 43.3 521.5 44.4 526.0 48.0 530.0 53.5 533.5 61.2 535.5 69.7 535.9 77.2 535.4 80.2 534.5 82.7 533.0 84.9 531.0 86.6 525.5 88.9 508.5 92.3 492.5 96.2 488.5 96.5 485.5 95.6 483.5 94.1 481.5 91.2 480.2 87.7 479.5 83.7 479.4 79.2 479.8 75.2 481.0 70.7 482.7 66.7 485.0 62.8 487.7 59.2 494.5 52.4 499.0 49.1 503.5 46.3 507.5 44.4ZM478.5 145.1 480.0 144.7 481.5 145.0 483.0 145.9 484.0 147.2 485.3 151.2 485.2 156.2 484.0 160.2 482.0 163.3 478.0 166.9 476.5 167.7 475.0 167.9 473.0 166.7 471.7 164.2 471.1 160.7 471.3 156.7 472.4 152.7 474.0 149.4 476.0 146.9Z"/>
<path fill="#fad32a" fill-rule="evenodd" d="M505.0 61.7 508.3 61.7 510.9 63.2 512.2 65.7 511.8 68.7 509.9 71.2 507.0 72.9 503.5 73.7 500.0 73.1 498.6 72.2 497.7 70.7 497.5 69.2 498.0 67.2 499.2 65.2 500.7 63.7 503.0 62.3Z"/>
</g>
<g fill="#fff" stroke="#3a3a3a" stroke-width="0.8">
<circle cx="43.20" cy="10.00" r="1.55"/>
<circle cx="148.30" cy="20.80" r="1.55"/>
<circle cx="235.50" cy="15.50" r="1.55"/>
<circle cx="282.70" cy="26.70" r="1.55"/>
<circle cx="272.70" cy="40.00" r="1.55"/>
<circle cx="77.00" cy="38.00" r="1.55"/>
<circle cx="96.00" cy="55.50" r="1.55"/>
<circle cx="131.00" cy="60.00" r="1.55"/>
<circle cx="158.00" cy="64.50" r="1.55"/>
<circle cx="216.00" cy="64.00" r="1.55"/>
<circle cx="49.75" cy="76.75" r="1.55"/>
<circle cx="58.00" cy="76.75" r="1.55"/>
<circle cx="63.50" cy="101.00" r="1.55"/>
<circle cx="137.50" cy="111.00" r="1.55"/>
<circle cx="156.20" cy="98.10" r="1.55"/>
<circle cx="163.80" cy="91.30" r="1.55"/>
<circle cx="160.30" cy="101.90" r="1.55"/>
<circle cx="199.50" cy="103.50" r="1.55"/>
<circle cx="254.00" cy="98.75" r="1.55"/>
<circle cx="265.25" cy="132.75" r="1.55"/>
<circle cx="252.00" cy="154.50" r="1.55"/>
<circle cx="61.75" cy="183.00" r="1.55"/>
<circle cx="74.00" cy="193.75" r="1.55"/>
<circle cx="110.25" cy="136.50" r="1.55"/>
<circle cx="130.00" cy="164.50" r="1.55"/>
<circle cx="107.75" cy="170.00" r="1.55"/>
<circle cx="119.75" cy="189.50" r="1.55"/>
<circle cx="158.50" cy="185.50" r="1.55"/>
<circle cx="156.50" cy="196.00" r="1.55"/>
<circle cx="169.75" cy="150.75" r="1.55"/>
<circle cx="221.50" cy="152.50" r="1.55"/>
<circle cx="219.75" cy="158.75" r="1.55"/>
<circle cx="192.75" cy="178.50" r="1.55"/>
<circle cx="43.50" cy="242.00" r="1.55"/>
<circle cx="167.50" cy="226.75" r="1.55"/>
<circle cx="245.00" cy="201.00" r="1.55"/>
<circle cx="286.00" cy="205.00" r="1.55"/>
<circle cx="278.50" cy="232.00" r="1.55"/>
<circle cx="389.25" cy="14.50" r="1.55"/>
<circle cx="423.00" cy="42.50" r="1.55"/>
<circle cx="510.00" cy="25.00" r="1.55"/>
<circle cx="450.00" cy="56.50" r="1.55"/>
<circle cx="484.25" cy="59.00" r="1.55"/>
<circle cx="581.50" cy="20.00" r="1.55"/>
<circle cx="636.75" cy="37.50" r="1.55"/>
<circle cx="634.50" cy="44.50" r="1.55"/>
<circle cx="419.00" cy="76.00" r="1.55"/>
<circle cx="411.25" cy="81.50" r="1.55"/>
<circle cx="417.75" cy="101.75" r="1.55"/>
<circle cx="490.75" cy="110.75" r="1.55"/>
<circle cx="512.10" cy="81.00" r="1.55"/>
<circle cx="520.60" cy="69.20" r="1.55"/>
<circle cx="561.50" cy="69.00" r="1.55"/>
<circle cx="526.25" cy="82.10" r="1.55"/>
<circle cx="522.10" cy="106.25" r="1.55"/>
<circle cx="553.75" cy="104.25" r="1.55"/>
<circle cx="607.00" cy="98.25" r="1.55"/>
<circle cx="407.50" cy="181.75" r="1.55"/>
<circle cx="419.75" cy="198.00" r="1.55"/>
<circle cx="456.00" cy="144.50" r="1.55"/>
<circle cx="453.25" cy="174.75" r="1.55"/>
<circle cx="492.00" cy="169.50" r="1.55"/>
<circle cx="473.00" cy="189.00" r="1.55"/>
<circle cx="523.00" cy="150.00" r="1.55"/>
<circle cx="545.75" cy="177.75" r="1.55"/>
<circle cx="519.75" cy="190.25" r="1.55"/>
<circle cx="517.75" cy="194.50" r="1.55"/>
<circle cx="583.00" cy="157.00" r="1.55"/>
<circle cx="609.00" cy="149.25" r="1.55"/>
<circle cx="587.25" cy="159.00" r="1.55"/>
<circle cx="585.75" cy="163.25" r="1.55"/>
<circle cx="389.25" cy="246.25" r="1.55"/>
<circle cx="520.75" cy="226.25" r="1.55"/>
<circle cx="598.00" cy="200.00" r="1.55"/>
<circle cx="647.50" cy="209.50" r="1.55"/>
<circle cx="624.25" cy="236.50" r="1.55"/>
</g>
<!-- colorbars -->
<rect x="303.3" y="1.4" width="9.8" height="248.9" fill="url(#gl)" stroke="#a0a0a0" stroke-width="0.5"/>
<rect x="659.4" y="1.4" width="9.8" height="248.6" fill="url(#gr)" stroke="#a0a0a0" stroke-width="0.5"/>
<text x="14.40" y="253.80" text-anchor="end">0</text>
<text x="369.40" y="253.80" text-anchor="end">0</text>
<text x="14.40" y="215.45" text-anchor="end">100</text>
<text x="369.40" y="215.45" text-anchor="end">100</text>
<text x="14.40" y="177.10" text-anchor="end">200</text>
<text x="369.40" y="177.10" text-anchor="end">200</text>
<text x="14.40" y="138.75" text-anchor="end">300</text>
<text x="369.40" y="138.75" text-anchor="end">300</text>
<text x="14.40" y="100.40" text-anchor="end">400</text>
<text x="369.40" y="100.40" text-anchor="end">400</text>
<text x="14.40" y="62.05" text-anchor="end">500</text>
<text x="369.40" y="62.05" text-anchor="end">500</text>
<text x="14.40" y="23.70" text-anchor="end">600</text>
<text x="369.40" y="23.70" text-anchor="end">600</text>
<text x="60.20" y="263.20" text-anchor="middle">100</text>
<text x="420.88" y="263.20" text-anchor="middle">100</text>
<text x="103.20" y="263.20" text-anchor="middle">200</text>
<text x="463.96" y="263.20" text-anchor="middle">200</text>
<text x="146.20" y="263.20" text-anchor="middle">300</text>
<text x="507.04" y="263.20" text-anchor="middle">300</text>
<text x="189.20" y="263.20" text-anchor="middle">400</text>
<text x="550.12" y="263.20" text-anchor="middle">400</text>
<text x="232.20" y="263.20" text-anchor="middle">500</text>
<text x="593.20" y="263.20" text-anchor="middle">500</text>
<text x="275.20" y="263.20" text-anchor="middle">600</text>
<text x="636.28" y="263.20" text-anchor="middle">600</text>
<path d="M310.90 10.60H313.10" stroke="#262626" stroke-width="0.6"/>
<text class="cb" x="316.60" y="13.65">1.9</text>
<path d="M310.90 38.15H313.10" stroke="#262626" stroke-width="0.6"/>
<text class="cb" x="316.60" y="41.20">1.8</text>
<path d="M310.90 65.70H313.10" stroke="#262626" stroke-width="0.6"/>
<text class="cb" x="316.60" y="68.75">1.7</text>
<path d="M310.90 93.25H313.10" stroke="#262626" stroke-width="0.6"/>
<text class="cb" x="316.60" y="96.30">1.6</text>
<path d="M310.90 120.80H313.10" stroke="#262626" stroke-width="0.6"/>
<text class="cb" x="316.60" y="123.85">1.5</text>
<path d="M310.90 148.35H313.10" stroke="#262626" stroke-width="0.6"/>
<text class="cb" x="316.60" y="151.40">1.4</text>
<path d="M310.90 175.90H313.10" stroke="#262626" stroke-width="0.6"/>
<text class="cb" x="316.60" y="178.95">1.3</text>
<path d="M310.90 203.45H313.10" stroke="#262626" stroke-width="0.6"/>
<text class="cb" x="316.60" y="206.50">1.2</text>
<path d="M310.90 231.00H313.10" stroke="#262626" stroke-width="0.6"/>
<text class="cb" x="316.60" y="234.05">1.1</text>
<path d="M667.00 9.40H669.20" stroke="#262626" stroke-width="0.6"/>
<text class="cb" x="671.00" y="12.45">1.9</text>
<path d="M667.00 33.10H669.20" stroke="#262626" stroke-width="0.6"/>
<text class="cb" x="671.00" y="36.15">1.8</text>
<path d="M667.00 56.80H669.20" stroke="#262626" stroke-width="0.6"/>
<text class="cb" x="671.00" y="59.85">1.7</text>
<path d="M667.00 80.50H669.20" stroke="#262626" stroke-width="0.6"/>
<text class="cb" x="671.00" y="83.55">1.6</text>
<path d="M667.00 104.20H669.20" stroke="#262626" stroke-width="0.6"/>
<text class="cb" x="671.00" y="107.25">1.5</text>
<path d="M667.00 127.90H669.20" stroke="#262626" stroke-width="0.6"/>
<text class="cb" x="671.00" y="130.95">1.4</text>
<path d="M667.00 151.60H669.20" stroke="#262626" stroke-width="0.6"/>
<text class="cb" x="671.00" y="154.65">1.3</text>
<path d="M667.00 175.30H669.20" stroke="#262626" stroke-width="0.6"/>
<text class="cb" x="671.00" y="178.35">1.2</text>
<path d="M667.00 199.00H669.20" stroke="#262626" stroke-width="0.6"/>
<text class="cb" x="671.00" y="202.05">1.1</text>
<path d="M667.00 222.70H669.20" stroke="#262626" stroke-width="0.6"/>
<text class="cb" x="671.00" y="225.75">1</text>
<path d="M667.00 246.40H669.20" stroke="#262626" stroke-width="0.6"/>
<text class="cb" x="671.00" y="249.45">0.9</text>
</svg>
</body></html>
